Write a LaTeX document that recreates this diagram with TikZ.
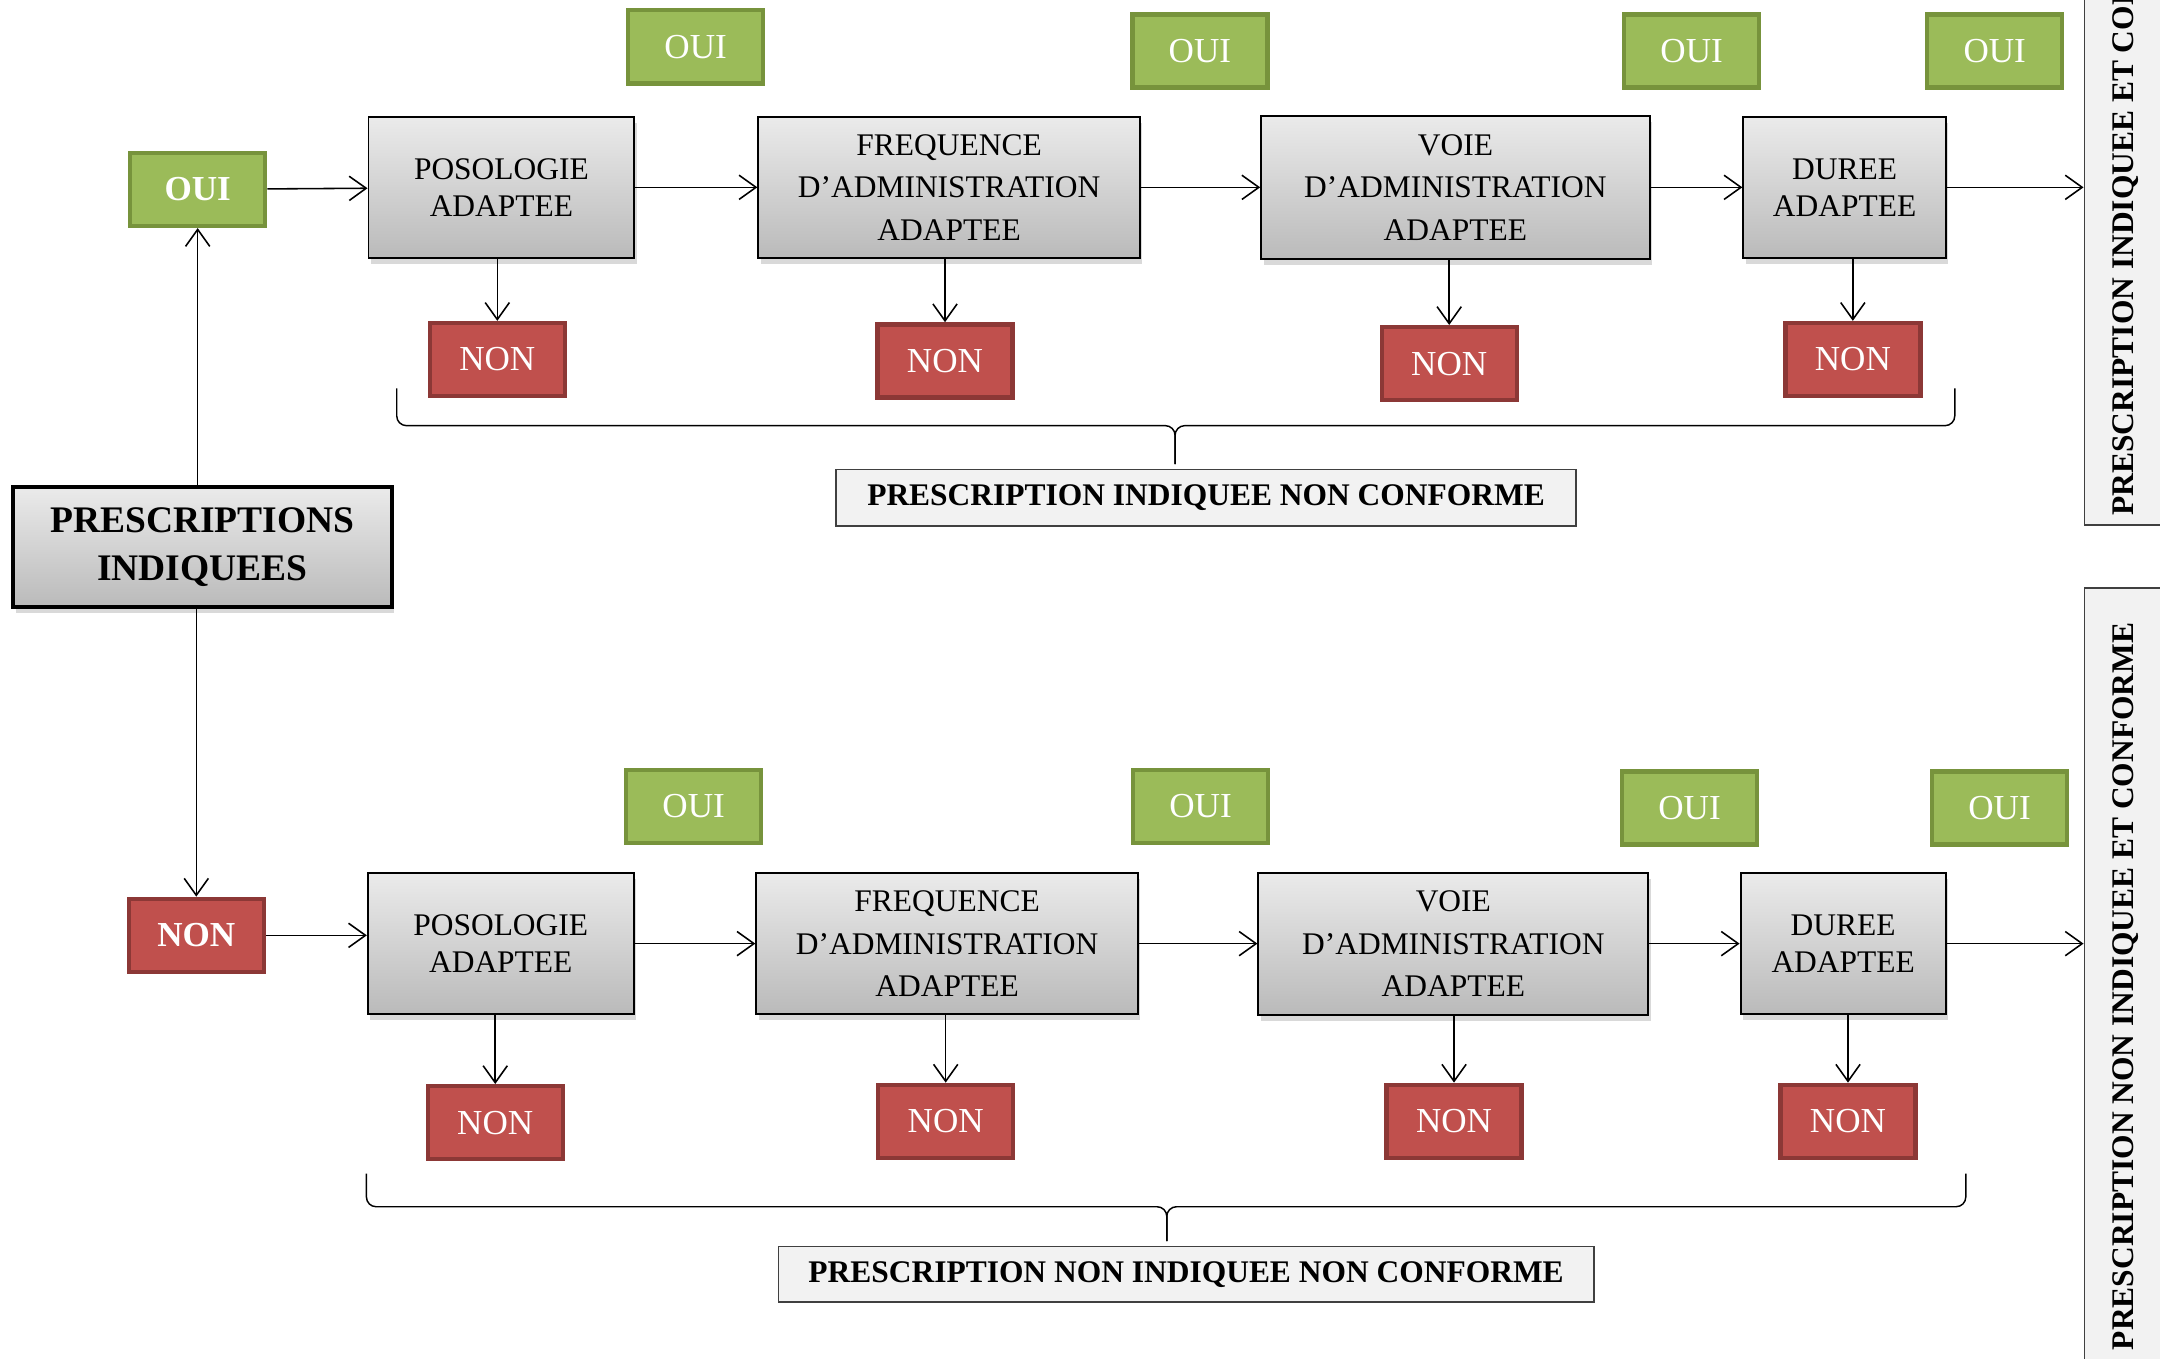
\documentclass[tikz,border=0pt]{standalone}
\usepackage{fontspec}
\setmainfont{Liberation Serif}
\usetikzlibrary{arrows.meta,shadows}

\definecolor{ouifill}{RGB}{155,187,89}
\definecolor{ouiline}{RGB}{119,147,60}
\definecolor{nonfill}{RGB}{192,80,77}
\definecolor{nonline}{RGB}{140,56,54}
\definecolor{lblfill}{RGB}{242,242,242}

\begin{document}
\begin{tikzpicture}[
    >={Straight Barb[length=7pt,width=10pt]},
    flow/.style={->, line width=0.65pt},
    critere/.style={draw, line width=0.8pt, top color=black!8, bottom color=black!27,
        align=center, font=\fontsize{13}{17.6}\selectfont, minimum height=2.04cm,
        drop shadow={opacity=0.3, shadow xshift=1pt, shadow yshift=-2.5pt}},
    court/.style={critere, font=\fontsize{13}{15.3}\selectfont},
    oui/.style={draw=ouiline, fill=ouifill, line width=1.8pt, text=white,
        minimum width=1.96cm, minimum height=1.06cm, font=\fontsize{14.5}{17}\selectfont},
    non/.style={oui, draw=nonline, fill=nonfill},
    verdict/.style={draw=black!75, fill=lblfill, line width=0.6pt,
        font=\bfseries\fontsize{13}{16}\selectfont},
    sidebox/.style={verdict, rotate=90, minimum height=1.2cm}
]
    \useasboundingbox (0,0) rectangle (31.36,19.72);

    % Start
    \node[critere, line width=1.7pt, minimum width=5.5cm, minimum height=1.74cm,
        font=\bfseries\fontsize{15.5}{19.8}\selectfont] (presc) at (2.94,11.78) {PRESCRIPTIONS\\INDIQUEES};
    \node[oui, font=\bfseries\fontsize{14.5}{17}\selectfont] (oui0) at (2.87,16.97) {OUI};
    \node[non, font=\bfseries\fontsize{14.5}{17}\selectfont] (non0) at (2.85,6.14) {NON};
    \draw[flow] (presc.north -| oui0) -- (oui0.south);
    \draw[flow] (presc.south -| non0) -- (non0.north);

    % Indiquees
    \node[court, minimum width=3.86cm] (pos1) at (7.28,17.0) {POSOLOGIE\\ADAPTEE};
    \node[critere, minimum width=5.54cm] (freq1) at (13.78,17.0) {FREQUENCE\\D’ADMINISTRATION\\ADAPTEE};
    \node[critere, minimum width=5.64cm, minimum height=2.08cm] (voie1) at (21.13,17.0) {VOIE\\D’ADMINISTRATION\\ADAPTEE};
    \node[court, minimum width=2.94cm] (dur1) at (26.78,17.0) {DUREE\\ADAPTEE};
    \node[oui] (oui1) at (10.10,19.04) {OUI};
    \node[oui] (oui2) at (17.42,18.98) {OUI};
    \node[oui] (oui3) at (24.56,18.98) {OUI};
    \node[oui] (oui4) at (28.96,18.98) {OUI};
    \node[non] (non1) at (7.22,14.50) {NON};
    \node[non] (non2) at (13.72,14.48) {NON};
    \node[non] (non3) at (21.04,14.44) {NON};
    \node[non] (non4) at (26.90,14.50) {NON};
    \node[sidebox, minimum width=9.70cm] (conf1) at (30.86,16.95) {PRESCRIPTION INDIQUEE ET CONFORME};
    \node[verdict, minimum width=10.74cm, minimum height=0.82cm] (nc1) at (17.51,12.49) {PRESCRIPTION INDIQUEE NON CONFORME};

    \draw[flow] (oui0) -- (pos1);
    \draw[flow] (pos1) -- (freq1);
    \draw[flow] (freq1) -- (voie1);
    \draw[flow] (voie1) -- (dur1);
    \draw[flow] (dur1.east) -- (dur1.east -| conf1.north);
    \draw[flow] (pos1.south -| non1) -- (non1.north);
    \draw[flow] (freq1.south -| non2) -- (non2.north);
    \draw[flow] (voie1.south -| non3) -- (non3.north);
    \draw[flow] (dur1.south -| non4) -- (non4.north);
    \draw[line width=0.6pt, rounded corners=4pt] (5.76,14.08) -- (5.76,13.54) -- (17.06,13.54) -- (17.06,12.98);
    \draw[line width=0.6pt, rounded corners=4pt] (28.38,14.08) -- (28.38,13.54) -- (17.06,13.54) -- (17.06,12.98);

    % Non indiquees
    \node[court, minimum width=3.86cm] (pos2) at (7.27,6.02) {POSOLOGIE\\ADAPTEE};
    \node[critere, minimum width=5.54cm] (freq2) at (13.75,6.02) {FREQUENCE\\D’ADMINISTRATION\\ADAPTEE};
    \node[critere, minimum width=5.66cm, minimum height=2.06cm] (voie2) at (21.10,6.02) {VOIE\\D’ADMINISTRATION\\ADAPTEE};
    \node[court, minimum width=2.98cm] (dur2) at (26.76,6.02) {DUREE\\ADAPTEE};
    \node[oui] (oui5) at (10.07,8.01) {OUI};
    \node[oui] (oui6) at (17.43,8.01) {OUI};
    \node[oui] (oui7) at (24.53,7.99) {OUI};
    \node[oui] (oui8) at (29.03,7.99) {OUI};
    \node[non] (non5) at (7.19,3.42) {NON};
    \node[non] (non6) at (13.73,3.44) {NON};
    \node[non] (non7) at (21.11,3.44) {NON};
    \node[non] (non8) at (26.83,3.44) {NON};
    \node[sidebox, minimum width=11.56cm] (conf2) at (30.86,5.40) {PRESCRIPTION NON INDIQUEE ET CONFORME};
    \node[verdict, minimum width=11.84cm, minimum height=0.80cm] (nc2) at (17.22,1.22) {PRESCRIPTION NON INDIQUEE NON CONFORME};

    \draw[flow] (non0) -- (non0 -| pos2.west);
    \draw[flow] (pos2) -- (freq2);
    \draw[flow] (freq2) -- (voie2);
    \draw[flow] (voie2) -- (dur2);
    \draw[flow] (dur2.east) -- (dur2.east -| conf2.north);
    \draw[flow] (pos2.south -| non5) -- (non5.north);
    \draw[flow] (freq2.south -| non6) -- (non6.north);
    \draw[flow] (voie2.south -| non7) -- (non7.north);
    \draw[flow] (dur2.south -| non8) -- (non8.north);
    \draw[line width=0.6pt, rounded corners=4pt] (5.32,2.68) -- (5.32,2.20) -- (16.94,2.20) -- (16.94,1.70);
    \draw[line width=0.6pt, rounded corners=4pt] (28.54,2.68) -- (28.54,2.20) -- (16.94,2.20) -- (16.94,1.70);
\end{tikzpicture}
\end{document}
